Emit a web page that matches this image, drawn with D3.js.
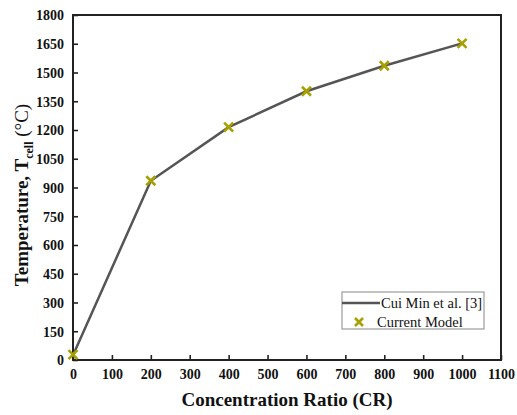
<!DOCTYPE html>
<html>
<head>
<meta charset="utf-8">
<script src="https://d3js.org/d3.v7.min.js"></script>
<style>
  body { margin: 0; background: #fff; }
  svg text { font-family: "Liberation Serif", "Times New Roman", serif; }
</style>
</head>
<body>
<div id="chart"></div>
<script>
// data
var cr = [0, 200, 400, 600, 800, 1000];
var cuiMin = [25, 935, 1215, 1402, 1535, 1652];
var currentModel = [28, 935, 1215, 1402, 1535, 1652];
var xTicks = [0, 100, 200, 300, 400, 500, 600, 700, 800, 900, 1000, 1100];
var yTicks = [0, 150, 300, 450, 600, 750, 900, 1050, 1200, 1350, 1500, 1650, 1800];
var seriesNames = ["Cui Min et al. [3]", "Current Model"];

var width = 517, height = 415;
var margin = {top: 15, right: 16, bottom: 55, left: 73};

var svg = d3.select("#chart").append("svg")
    .attr("width", width)
    .attr("height", height);

var x = d3.scaleLinear().domain([0, 1100]).range([margin.left, width - margin.right]);
var y = d3.scaleLinear().domain([0, 1800]).range([height - margin.bottom, margin.top]);

// x axis, ticks pointing in
var xAxis = svg.append("g")
    .attr("transform", "translate(0," + y(0) + ")")
    .call(d3.axisBottom(x).tickValues(xTicks).tickSize(-5).tickPadding(9).tickFormat(d3.format("d")));

var yAxis = svg.append("g")
    .attr("transform", "translate(" + x(0) + ",0)")
    .call(d3.axisLeft(y).tickValues(yTicks).tickSize(-5).tickPadding(9).tickFormat(d3.format("d")));

[xAxis, yAxis].forEach(function(a) {
    a.select(".domain").remove();
    a.selectAll(".tick line").attr("stroke", "#222").attr("stroke-width", 1.6);
    a.selectAll(".tick text")
        .attr("fill", "#111")
        .style("font-size", "14px")
        .style("font-weight", "bold");
});
yAxis.selectAll(".tick text").attr("dy", "0.35em");

// frame
svg.append("rect")
    .attr("x", x(0))
    .attr("y", y(1800))
    .attr("width", x(1100) - x(0))
    .attr("height", y(0) - y(1800))
    .attr("fill", "none")
    .attr("stroke", "#222")
    .attr("stroke-width", 2);

// line
var line = d3.line()
    .x(function(d, i) { return x(cr[i]); })
    .y(function(d) { return y(d); });

svg.append("path")
    .datum(cuiMin)
    .attr("d", line)
    .attr("fill", "none")
    .attr("stroke", "#555")
    .attr("stroke-width", 2.5);

// x markers
function cross(g, cx, cy, s) {
    g.append("path")
        .attr("d", "M" + (cx - s) + "," + (cy - s) + "L" + (cx + s) + "," + (cy + s) +
                   "M" + (cx - s) + "," + (cy + s) + "L" + (cx + s) + "," + (cy - s))
        .attr("stroke", "#a8a000")
        .attr("stroke-width", 2.6)
        .attr("fill", "none");
}

var marks = svg.append("g");
currentModel.forEach(function(d, i) {
    cross(marks, x(cr[i]), y(d), 4.5);
});

// legend
var lg = svg.append("g").attr("transform", "translate(342,292)");
lg.append("rect")
    .attr("width", 142)
    .attr("height", 37)
    .attr("fill", "#fff")
    .attr("stroke", "#888")
    .attr("stroke-width", 1);
lg.append("line")
    .attr("x1", 0).attr("x2", 38)
    .attr("y1", 11).attr("y2", 11)
    .attr("stroke", "#555")
    .attr("stroke-width", 2.5);
lg.append("text")
    .attr("x", 39).attr("y", 16)
    .style("font-size", "14.5px")
    .attr("fill", "#111")
    .text(seriesNames[0]);
cross(lg, 17, 30, 4);
lg.append("text")
    .attr("x", 35).attr("y", 35)
    .style("font-size", "14.5px")
    .attr("fill", "#111")
    .text(seriesNames[1]);

// axis titles
svg.append("text")
    .attr("x", (x(0) + x(1100)) / 2)
    .attr("y", 406)
    .attr("text-anchor", "middle")
    .style("font-size", "19px")
    .style("font-weight", "bold")
    .attr("fill", "#111")
    .text("Concentration Ratio (CR)");

var yt = svg.append("text")
    .attr("transform", "translate(28,195) rotate(-90)")
    .attr("text-anchor", "middle")
    .style("font-size", "19px")
    .attr("fill", "#111");
yt.append("tspan").style("font-weight", "bold").text("Temperature, T");
yt.append("tspan").style("font-weight", "bold").style("font-size", "12px").attr("dy", 5).text("cell");
yt.append("tspan").attr("dy", -5).text(" (°C)");
</script>
</body>
</html>
